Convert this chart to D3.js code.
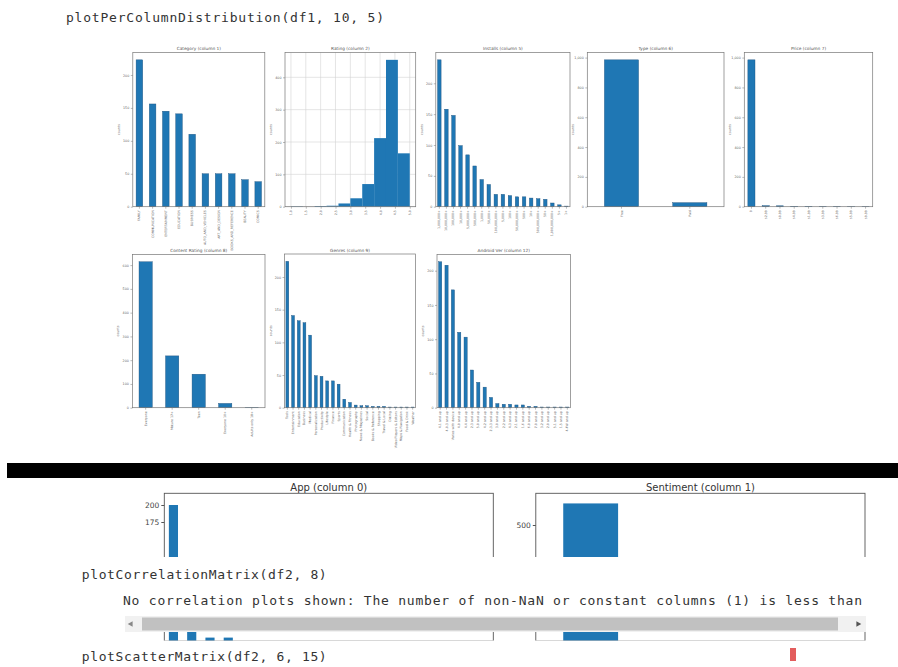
<!doctype html>
<html lang="en">
  <head>
    <meta charset="UTF-8" />
    <title>plotPerColumnDistribution</title>
    <script src="https://cdn.jsdelivr.net/npm/d3@7"></script>
    <style>
      body { margin: 0; background: #fff; }
      svg { display: block; }
      .code { font-family: "DejaVu Sans Mono", monospace; font-size: 13px; fill: #333; }
    </style>
  </head>
  <body>
    <svg id="chart" width="898" height="667"></svg>
    <script>
      // ---- data ----
      const categoryLabels = ["FAMILY", "COMMUNICATION", "ENTERTAINMENT", "EDUCATION", "BUSINESS", "AUTO_AND_VEHICLES", "ART_AND_DESIGN", "BOOKS_AND_REFERENCE", "BEAUTY", "COMICS"];
      const categoryCounts = [223, 156, 145, 141, 110, 50, 50, 50, 41, 38];

      const ratingBinEdges = [1.0, 1.4, 1.8, 2.2, 2.6, 3.0, 3.4, 3.8, 4.2, 4.6, 5.0];
      const ratingCounts = [1, 0, 2, 3, 10, 26, 70, 212, 454, 165];

      const installsLabels = ["1,000,000+", "10,000,000+", "100,000+", "10,000+", "5,000,000+", "500,000+", "1,000+", "50,000+", "100,000,000+", "5,000+", "100+", "50,000,000+", "500+", "10+", "500,000,000+", "50+", "1,000,000,000+", "5+", "1+"];
      const installsCounts = [238, 158, 148, 99, 84, 66, 44, 36, 20, 20, 18, 16, 16, 14, 13, 12, 6, 3, 1];

      const typeLabels = ["Free", "Paid"];
      const typeCounts = [985, 27];

      const priceLabels = ["0", "$2.99", "$0.99", "$4.99", "$1.99", "$3.99", "$6.99", "$5.99", "$9.99"];
      const priceCounts = [985, 7, 6, 3, 3, 2, 2, 1, 1];

      const contentLabels = ["Everyone", "Mature 17+", "Teen", "Everyone 10+", "Adults only 18+"];
      const contentCounts = [614, 218, 141, 18, 1];

      const genresLabels = ["Tools", "Entertainment", "Education", "Business", "Medical", "Personalization", "Productivity", "Lifestyle", "Finance", "Sports", "Communication", "Health & Fitness", "Photography", "News & Magazines", "Social", "Books & Reference", "Shopping", "Travel & Local", "Dating", "Video Players & Editors", "Maps & Navigation", "Food & Drink", "Weather"];
      const genresCounts = [224, 141, 133, 130, 111, 49, 48, 41, 41, 36, 13, 8, 4, 3, 3, 2, 2, 2, 1, 1, 1, 1, 1];

      const androidLabels = ["4.1 and up", "4.0.3 and up", "Varies with device", "4.0 and up", "4.4 and up", "2.3 and up", "5.0 and up", "4.2 and up", "2.3.3 and up", "3.0 and up", "2.2 and up", "4.3 and up", "2.1 and up", "1.6 and up", "6.0 and up", "7.0 and up", "3.2 and up", "2.0 and up", "5.1 and up", "1.5 and up", "4.4W and up"];
      const androidCounts = [213, 208, 172, 110, 103, 55, 37, 30, 15, 6, 5, 5, 4, 4, 2, 2, 1, 1, 1, 1, 1];

      // second notebook (df2), mostly hidden behind the next cell
      const appLabels = ["10 Best Foods for You", "104 找工作 - 找工作 找打工 找兼職", "11st", "1800 Contacts - Lens Store", "1LINE – One Line with One Touch", "2018Emoji Keyboard Emoticons Lite", "21-Day Meditation Experience", "2Date Dating App, Love and matching", "2GIS: directory & navigator", "2RedBeans", "2ndLine - Second Phone Number", "30 Day Fitness Challenge", "365Scores - Live Scores", "3D Live Neon Weed Launcher", "4 in a Row", "4K Wallpapers and Ultra HD Backgrounds", "7 Cups: Anxiety & Stress Chat", "7 Day Food Journal Challenge"];
      const appCounts = [200, 100, 5, 5, 0, 0, 0, 0, 0, 0, 0, 0, 0, 0, 0, 0, 0, 0];
      const appTicks = [175, 200];
      const sentimentLabels = ["Positive", "Negative", "Neutral"];
      const sentimentCounts = [593, 0, 0];
      const sentimentTicks = [500];

      const barColor = "#1f77b4";
      const svg = d3.select("#chart");

      svg.append("text").attr("class", "code")
        .attr("x", 66).attr("y", 22)
        .attr("textLength", 318)
        .text("plotPerColumnDistribution(df1, 10, 5)");

      // panel boxes (pixel positions of each matplotlib axes)
      const panels = [
        { title: "Category (column 1)", labels: categoryLabels, counts: categoryCounts, x0: 132.8, x1: 264.8, y0: 52.5, y1: 206.7 },
        { title: "Rating (column 2)", hist: true, edges: ratingBinEdges, counts: ratingCounts, x0: 285, x1: 415.7, y0: 52.5, y1: 206.7 },
        { title: "Installs (column 5)", labels: installsLabels, counts: installsCounts, x0: 435.8, x1: 570, y0: 52.5, y1: 206.7 },
        { title: "Type (column 6)", labels: typeLabels, counts: typeCounts, x0: 587.3, x1: 724, y0: 52.5, y1: 206.7 },
        { title: "Price (column 7)", labels: priceLabels, counts: priceCounts, x0: 744.3, x1: 872.7, y0: 52.5, y1: 206.7 },
        { title: "Content Rating (column 8)", labels: contentLabels, counts: contentCounts, x0: 132.4, x1: 265, y0: 254.5, y1: 407.7 },
        { title: "Genres (column 9)", labels: genresLabels, counts: genresCounts, x0: 284.5, x1: 415.5, y0: 254, y1: 407.7 },
        { title: "Android Ver (column 12)", labels: androidLabels, counts: androidCounts, x0: 437, x1: 570.5, y0: 254.5, y1: 407.7 }
      ];

      function drawPanel(p) {
        const g = svg.append("g");
        const y = d3.scaleLinear()
          .domain([0, d3.max(p.counts) * 1.05])
          .range([p.y1, p.y0]);

        let xAxis;
        if (p.hist) {
          const lo = p.edges[0], hi = p.edges[p.edges.length - 1];
          const pad = (hi - lo) * 0.05;
          const x = d3.scaleLinear().domain([lo - pad, hi + pad]).range([p.x0, p.x1]);
          const xt = x.ticks(9);
          // grid
          g.append("g").selectAll("line").data(xt).join("line")
            .attr("x1", d => x(d)).attr("x2", d => x(d))
            .attr("y1", p.y0).attr("y2", p.y1)
            .attr("stroke", "#d4d4d4").attr("stroke-width", 0.6);
          g.append("g").selectAll("line").data(y.ticks(5)).join("line")
            .attr("x1", p.x0).attr("x2", p.x1)
            .attr("y1", d => y(d)).attr("y2", d => y(d))
            .attr("stroke", "#d4d4d4").attr("stroke-width", 0.6);
          g.append("g").selectAll("rect").data(p.counts).join("rect")
            .attr("x", (d, i) => x(p.edges[i]))
            .attr("width", (d, i) => x(p.edges[i + 1]) - x(p.edges[i]))
            .attr("y", d => y(d))
            .attr("height", d => p.y1 - y(d))
            .attr("fill", barColor);
          xAxis = d3.axisBottom(x).tickValues(xt).tickFormat(d3.format(".1f"));
        } else {
          const x = d3.scaleBand().domain(p.labels).range([p.x0, p.x1])
            .paddingInner(0.5).paddingOuter(0.25);
          g.append("g").selectAll("rect").data(p.counts).join("rect")
            .attr("x", (d, i) => x(p.labels[i]))
            .attr("width", x.bandwidth())
            .attr("y", d => y(d))
            .attr("height", d => p.y1 - y(d))
            .attr("fill", barColor)
            .attr("stroke", "#1b4f7c").attr("stroke-width", 0.4);
          xAxis = d3.axisBottom(x);
        }

        // box
        g.append("rect")
          .attr("x", p.x0).attr("y", p.y0)
          .attr("width", p.x1 - p.x0).attr("height", p.y1 - p.y0)
          .attr("fill", "none").attr("stroke", "#777").attr("stroke-width", 0.7);

        const ya = g.append("g")
          .attr("transform", `translate(${p.x0},0)`)
          .call(d3.axisLeft(y).ticks(5).tickSize(2).tickPadding(1.5));
        ya.select(".domain").remove();
        ya.attr("font-size", 3.3).attr("font-family", "DejaVu Sans");
        ya.selectAll("line").attr("stroke", "#777").attr("stroke-width", 0.5);
        ya.selectAll("text").attr("fill", "#666");

        const xa = g.append("g")
          .attr("transform", `translate(0,${p.y1})`)
          .call(xAxis.tickSize(2));
        xa.select(".domain").remove();
        xa.attr("font-size", 3.2).attr("font-family", "DejaVu Sans");
        xa.selectAll("line").attr("stroke", "#777").attr("stroke-width", 0.5);
        xa.selectAll("text")
          .attr("y", 0).attr("x", -3.5).attr("dy", "0.32em")
          .attr("transform", "rotate(-90)")
          .attr("text-anchor", "end")
          .attr("fill", "#666");

        g.append("text")
          .attr("transform", `translate(${p.x0 - 13},${(p.y0 + p.y1) / 2}) rotate(-90)`)
          .attr("text-anchor", "middle")
          .attr("font-family", "DejaVu Sans").attr("font-size", 3.3).attr("fill", "#666")
          .text("counts");

        g.append("text")
          .attr("x", (p.x0 + p.x1) / 2).attr("y", p.y0 - 2.5)
          .attr("text-anchor", "middle")
          .attr("font-family", "DejaVu Sans").attr("font-size", 4.3).attr("fill", "#555")
          .text(p.title);
      }

      panels.forEach(drawPanel);

      // black divider between the two screenshots
      svg.append("rect").attr("x", 7).attr("y", 463).attr("width", 891).attr("height", 15).attr("fill", "#000");

      // ---- second notebook: only top and a thin bottom strip are visible ----
      const clip = svg.append("defs").append("clipPath").attr("id", "nb2");
      clip.append("rect").attr("x", 0).attr("y", 479).attr("width", 898).attr("height", 78);
      clip.append("rect").attr("x", 0).attr("y", 632).attr("width", 898).attr("height", 8.6);

      const nb2 = svg.append("g").attr("clip-path", "url(#nb2)");
      const base2 = 641;

      const smallPanels = [
        { title: "App (column 0)", labels: appLabels, counts: appCounts, ticks: appTicks, x0: 164.3, x1: 493.3, y: d3.scaleLinear().domain([0, 200]).range([base2, 505]) },
        { title: "Sentiment (column 1)", labels: sentimentLabels, counts: sentimentCounts, ticks: sentimentTicks, x0: 535.8, x1: 865, y: d3.scaleLinear().domain([0, 500]).range([base2, 525]) }
      ];

      smallPanels.forEach(p => {
        const x = d3.scaleBand().domain(p.labels).range([p.x0, p.x1]).paddingInner(0.5).paddingOuter(0.25);
        nb2.append("g").selectAll("rect").data(p.counts).join("rect")
          .attr("x", (d, i) => x(p.labels[i]))
          .attr("width", x.bandwidth())
          .attr("y", d => p.y(d))
          .attr("height", d => base2 - p.y(d))
          .attr("fill", barColor);
        nb2.append("rect")
          .attr("x", p.x0).attr("y", 493.3)
          .attr("width", p.x1 - p.x0).attr("height", base2 - 493.3)
          .attr("fill", "none").attr("stroke", "#555").attr("stroke-width", 0.9);
        const ya = nb2.append("g")
          .attr("transform", `translate(${p.x0},0)`)
          .call(d3.axisLeft(p.y).tickValues(p.ticks).tickSize(3).tickPadding(2));
        ya.select(".domain").remove();
        ya.attr("font-size", 7.5).attr("font-family", "DejaVu Sans");
        ya.selectAll("line").attr("stroke", "#555");
        ya.selectAll("text").attr("fill", "#444");
        nb2.append("text")
          .attr("x", (p.x0 + p.x1) / 2).attr("y", 491)
          .attr("text-anchor", "middle")
          .attr("font-family", "DejaVu Sans").attr("font-size", 10).attr("fill", "#333")
          .text(p.title);
      });

      // ---- following cells ----
      svg.append("text").attr("class", "code")
        .attr("x", 81.7).attr("y", 579).attr("textLength", 245)
        .text("plotCorrelationMatrix(df2, 8)");

      svg.append("text").attr("class", "code")
        .attr("x", 123).attr("y", 605).attr("textLength", 739)
        .attr("fill", "#222")
        .text("No correlation plots shown: The number of non-NaN or constant columns (1) is less than");

      // horizontal scrollbar of the output area
      svg.append("rect").attr("x", 125).attr("y", 616).attr("width", 741).attr("height", 16).attr("fill", "#f1f1f1");
      svg.append("rect").attr("x", 142).attr("y", 617.5).attr("width", 696).attr("height", 13).attr("fill", "#c1c1c1");
      svg.append("path")
        .attr("d", d3.symbol(d3.symbolTriangle, 14))
        .attr("transform", "translate(131,624) rotate(-90)").attr("fill", "#888");
      svg.append("path")
        .attr("d", d3.symbol(d3.symbolTriangle, 14))
        .attr("transform", "translate(858,624) rotate(90)").attr("fill", "#555");

      svg.append("text").attr("class", "code")
        .attr("x", 81.7).attr("y", 661).attr("textLength", 245)
        .text("plotScatterMatrix(df2, 6, 15)");

      svg.append("rect").attr("x", 790).attr("y", 648).attr("width", 6).attr("height", 13).attr("fill", "#e35d5d");
    </script>
  </body>
</html>
